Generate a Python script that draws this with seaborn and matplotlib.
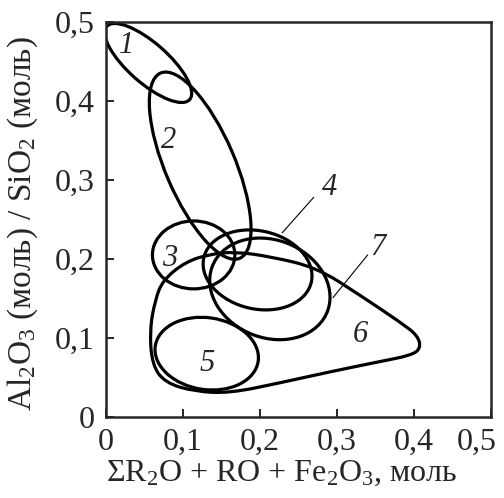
import matplotlib
matplotlib.use("Agg")
import matplotlib.pyplot as plt
from matplotlib.patches import Ellipse, PathPatch
from matplotlib.path import Path
from matplotlib.transforms import ScaledTranslation
import seaborn as sns

# oval fields: centre, full width/height, rotation (deg)
oval_names = ["1", "2", "3", "4", "5", "7"]
oval_cx = [0.055, 0.1225, 0.114, 0.197, 0.131, 0.213]
oval_cy = [0.448, 0.318, 0.205, 0.186, 0.080, 0.162]
oval_w = [0.142, 0.256, 0.107, 0.143, 0.135, 0.160]
oval_h = [0.051, 0.090, 0.086, 0.099, 0.091, 0.124]
oval_ang = [-40.5, 113.8, 0, -12, -8, -20]

# field 6 outline (control polygon of a smooth closed curve)
f6_x = [0.074, 0.103, 0.135, 0.168, 0.213, 0.274, 0.330, 0.382, 0.405, 0.409,
        0.397, 0.356, 0.291, 0.226, 0.161, 0.116, 0.077, 0.060, 0.057, 0.064]
f6_y = [0.173, 0.196, 0.206, 0.209, 0.203, 0.189, 0.154, 0.120, 0.103, 0.087,
        0.078, 0.070, 0.057, 0.043, 0.030, 0.032, 0.043, 0.066, 0.110, 0.148]

# field numbers
lab_text = ["1", "2", "3", "4", "5", "6", "7"]
lab_x = [0.027, 0.081, 0.083, 0.291, 0.131, 0.330, 0.353]
lab_y = [0.470, 0.350, 0.201, 0.290, 0.068, 0.104, 0.214]

# leader lines for 4 and 7
lead_x = [[0.270, 0.229], [0.340, 0.295]]
lead_y = [[0.278, 0.233], [0.205, 0.151]]

ticks = [0, 0.1, 0.2, 0.3, 0.4, 0.5]
tick_labels = ["0", "0,1", "0,2", "0,3", "0,4", "0,5"]

sns.set_style("ticks", {"xtick.direction": "in", "ytick.direction": "in"})
plt.rcParams["font.family"] = ["Liberation Serif", "DejaVu Serif"]
plt.rcParams["mathtext.fontset"] = "custom"
plt.rcParams["mathtext.rm"] = "Liberation Serif"
plt.rcParams["mathtext.it"] = "Liberation Serif:italic"

fig = plt.figure(figsize=(5.04, 4.98), dpi=100)
ax = fig.add_axes([0.210, 0.163, 0.764, 0.793])

lw = 2.3
for cx, cy, w, h, a in zip(oval_cx, oval_cy, oval_w, oval_h, oval_ang):
    ax.add_patch(Ellipse((cx, cy), w, h, angle=a, fill=False, ec="black", lw=lw))

pts = list(zip(f6_x, f6_y))
n = len(pts)
mid = lambda p, q: ((p[0] + q[0]) / 2, (p[1] + q[1]) / 2)
verts = [mid(pts[-1], pts[0])]
codes = [Path.MOVETO]
for i in range(n):
    verts += [pts[i], mid(pts[i], pts[(i + 1) % n])]
    codes += [Path.CURVE3, Path.CURVE3]
ax.add_patch(PathPatch(Path(verts, codes), fill=False, ec="black", lw=lw))

for lx, ly in zip(lead_x, lead_y):
    ax.plot(lx, ly, color="black", lw=0.8)

for t, x, y in zip(lab_text, lab_x, lab_y):
    ax.text(x, y, t, fontsize=22, style="italic", ha="center", va="center")

ax.set_xlim(0, 0.5)
ax.set_ylim(0, 0.5)
ax.set_xticks(ticks)
ax.set_xticklabels(tick_labels)
ax.set_yticks(ticks)
ax.set_yticklabels(tick_labels)
ax.tick_params(labelsize=23, length=6, width=1.4, pad=8)
for s in ax.spines.values():
    s.set_linewidth(1.8)
# last x label sits left of its tick, as in the original
last = ax.get_xticklabels()[-1]
last.set_transform(last.get_transform() + ScaledTranslation(-0.14, 0, fig.dpi_scale_trans))

ax.set_xlabel(r"$\Sigma$R$_2$O + RO + Fe$_2$O$_3$, моль", fontsize=23)
ax.xaxis.set_label_coords(0.457, -0.105)
ax.set_ylabel(r"Al$_2$O$_3$ (моль) / SiO$_2$ (моль)", fontsize=24)
ax.yaxis.set_label_coords(-0.172, 0.488)

fig.savefig("out.png", dpi=100)
